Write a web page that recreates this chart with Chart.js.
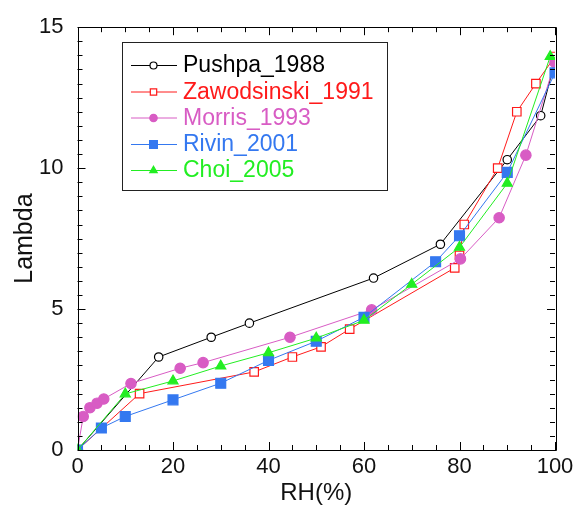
<!DOCTYPE html>
<html>
<head>
<meta charset="utf-8">
<script src="https://cdn.jsdelivr.net/npm/chart.js@4/dist/chart.umd.min.js"></script>
<style>
html,body{margin:0;padding:0;background:#fff;}
#wrap{width:582px;height:508px;}
</style>
</head>
<body>
<div id="wrap"><canvas id="c" width="582" height="508"></canvas></div>
<script>
const seriesNames = ["Pushpa_1988","Zawodsinski_1991","Morris_1993","Rivin_2001","Choi_2005"];

const pushpaX = [0, 17, 28, 36, 62, 76, 90, 97, 100];
const pushpaY = [0, 3.3, 4.0, 4.5, 6.1, 7.3, 10.3, 11.86, 13.8];

const zawoX = [0, 13, 37, 45, 51, 57, 79, 80, 81, 88, 92, 96, 100];
const zawoY = [0, 2.0, 2.77, 3.3, 3.66, 4.29, 6.46, 6.9, 8.0, 10.0, 12.0, 13.0, 13.96];

const morrisX = [0, 1.2, 2.6, 4.1, 5.5, 11.2, 21.5, 26.3, 44.5, 61.6, 80.2, 88.3, 93.9, 100];
const morrisY = [0, 1.19, 1.5, 1.66, 1.81, 2.36, 2.9, 3.1, 4.0, 4.97, 6.78, 8.24, 10.46, 13.75];

const rivinX = [0, 5, 10, 20, 30, 40, 50, 60, 75, 80, 90, 100];
const rivinY = [0, 0.78, 1.19, 1.78, 2.37, 3.18, 3.86, 4.71, 6.68, 7.6, 9.85, 13.38];

const choiX = [0, 10, 20, 30, 40, 50, 60, 70, 80, 90, 99];
const choiY = [0, 1.99, 2.45, 2.98, 3.45, 3.97, 4.6, 5.88, 7.19, 9.46, 13.96];

const xTickValues = [0, 20, 40, 60, 80, 100];
const yTickValues = [0, 5, 10, 15];

const colors = ["#000000", "#ff1a1a", "#d85cc4", "#3478f0", "#22ee22"];

function pts(xs, ys){ return xs.map((x,i)=>({x:x, y:ys[i]})); }

const FONT = "'Liberation Sans', Arial, sans-serif";

const styles = [
  {pointStyle:'circle', radius:4.2, bg:'#ffffff', border:colors[0]},
  {pointStyle:'rect', radius:6, bg:'#ffffff', border:colors[1]},
  {pointStyle:'circle', radius:5.2, bg:colors[2], border:colors[2]},
  {pointStyle:'rect', radius:7, bg:colors[3], border:colors[3]},
  {pointStyle:'triangle', radius:5.8, bg:colors[4], border:colors[4]}
];
const dataArrays = [pts(pushpaX,pushpaY), pts(zawoX,zawoY), pts(morrisX,morrisY), pts(rivinX,rivinY), pts(choiX,choiY)];
const orders = [5,4,3,2,1];

const datasets = seriesNames.map((n,i)=>({
  label:n,
  data:dataArrays[i],
  borderColor:colors[i],
  backgroundColor:styles[i].bg,
  borderWidth:1,
  pointStyle:styles[i].pointStyle,
  pointRadius:styles[i].radius,
  pointBackgroundColor:styles[i].bg,
  pointBorderColor:styles[i].border,
  pointBorderWidth:1.2,
  showLine:true,
  tension:0,
  order:orders[i]
}));

const framePlugin = {
  id:'frame',
  afterDatasetsDraw(chart){
    const ctx = chart.ctx, a = chart.chartArea;
    const xs = chart.scales.x, ys = chart.scales.y;
    ctx.save();
    ctx.strokeStyle = '#000';
    ctx.lineWidth = 1;
    ctx.beginPath();
    ctx.rect(Math.round(a.left)+0.5, Math.round(a.top)+0.5, Math.round(a.right-a.left), Math.round(a.bottom-a.top));
    ctx.stroke();
    ctx.beginPath();
    for(let v=0; v<=100; v+=5){
      const px = Math.round(xs.getPixelForValue(v))+0.5;
      const L = (v%20===0)?8:5;
      ctx.moveTo(px, a.bottom); ctx.lineTo(px, a.bottom-L);
      ctx.moveTo(px, a.top); ctx.lineTo(px, a.top+L);
    }
    for(let k=0; k<=30; k++){
      const v = k*0.5;
      const py = Math.round(ys.getPixelForValue(v))+0.5;
      const L = (k%10===0)?8:5;
      ctx.moveTo(a.left, py); ctx.lineTo(a.left+L, py);
      ctx.moveTo(a.right, py); ctx.lineTo(a.right-L, py);
    }
    ctx.stroke();
    ctx.restore();
  },
  afterDraw(chart){
    const ctx = chart.ctx;
    const bx = 122.5, by = 42.5, bw = 265, bh = 148;
    ctx.save();
    ctx.fillStyle = '#ffffff';
    ctx.fillRect(bx, by, bw, bh);
    ctx.strokeStyle = '#222';
    ctx.lineWidth = 1;
    ctx.strokeRect(bx, by, bw, bh);
    ctx.font = "23px " + FONT;
    ctx.textBaseline = 'middle';
    const rowY = [65, 91.5, 117.5, 144, 170];
    chart.data.datasets.forEach((ds,i)=>{
      const y = rowY[i];
      ctx.strokeStyle = ds.borderColor;
      ctx.lineWidth = 1;
      ctx.beginPath();
      ctx.moveTo(131, y+0.5); ctx.lineTo(177, y+0.5);
      ctx.stroke();
      ctx.fillStyle = ds.pointBackgroundColor;
      ctx.strokeStyle = ds.pointBorderColor;
      ctx.lineWidth = 1.2;
      Chart.helpers.drawPoint(ctx, {pointStyle:ds.pointStyle, radius:Math.max(3.5, ds.pointRadius-1.5), borderWidth:1.2, rotation:0}, 153.5, y+0.5);
      ctx.fillStyle = ds.borderColor;
      ctx.fillText(ds.label, 183, y+1);
    });
    ctx.restore();
  }
};

new Chart(document.getElementById('c'), {
  type:'scatter',
  data:{datasets:datasets},
  plugins:[framePlugin],
  options:{
    responsive:false,
    animation:false,
    devicePixelRatio:1,
    layout:{padding:{left:0, right:27, top:22, bottom:0}},
    plugins:{legend:{display:false}, tooltip:{enabled:false}},
    scales:{
      x:{
        type:'linear', min:0, max:100,
        afterFit(s){ s.height = 58; },
        afterBuildTicks(s){ s.ticks = xTickValues.map(v=>({value:v})); },
        grid:{display:false, drawTicks:false},
        border:{display:false},
        ticks:{font:{family:FONT, size:22}, color:'#111', padding:4, maxRotation:0, autoSkip:false},
        title:{display:true, text:'RH(%)', font:{family:FONT, size:24}, color:'#111', padding:{top:0, bottom:0}}
      },
      y:{
        type:'linear', min:0, max:15,
        afterFit(s){ s.width = 77.5; },
        afterBuildTicks(s){ s.ticks = yTickValues.map(v=>({value:v})); },
        grid:{display:false, drawTicks:false},
        border:{display:false},
        ticks:{font:{family:FONT, size:22}, color:'#111', padding:14, autoSkip:false},
        title:{display:true, text:'Lambda', font:{family:FONT, size:25}, color:'#111', padding:{top:10, bottom:0}}
      }
    }
  }
});
</script>
</body>
</html>
